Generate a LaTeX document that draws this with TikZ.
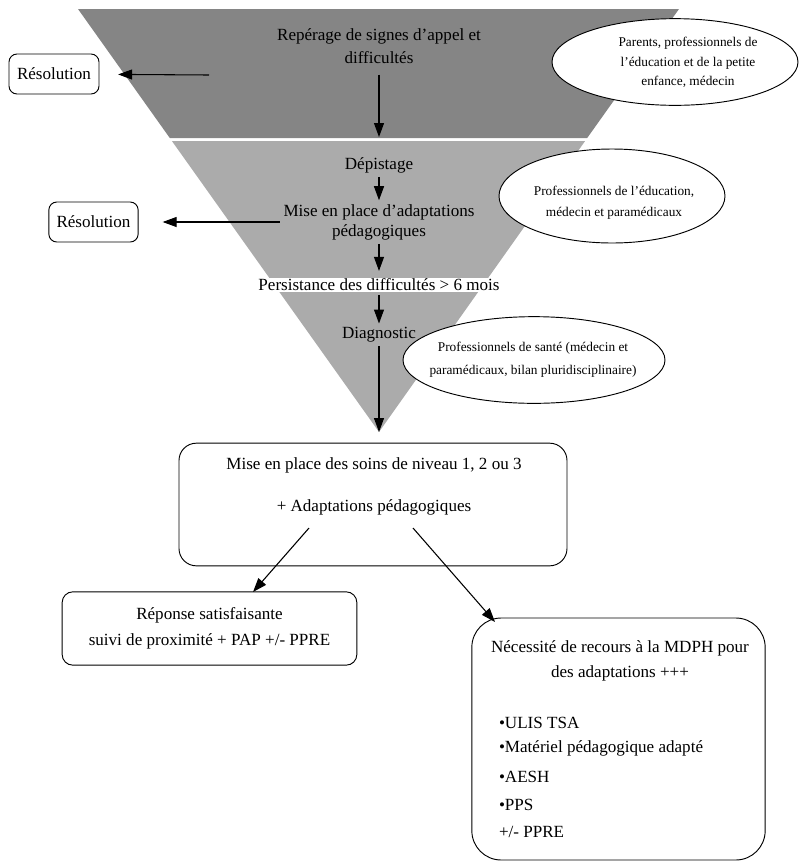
\documentclass[tikz,border=0pt]{standalone}
\usepackage{fontspec}
\setmainfont{Liberation Serif}
\usetikzlibrary{arrows.meta,shapes.geometric}

\begin{document}
\begin{tikzpicture}[x=0.75pt,y=-0.75pt,
  txt/.style={font=\fontsize{12.8}{15}\selectfont,align=center,inner sep=0pt,outer sep=3pt},
  whotxt/.style={font=\fontsize{10}{15}\selectfont,align=center,inner sep=0pt},
  who/.style={draw,ellipse,fill=white,line width=0.7pt,inner sep=0pt},
  box/.style={draw,rounded corners=6pt,line width=0.7pt,inner sep=0pt,
    font=\fontsize{12.8}{15}\selectfont,align=center},
  arr/.style={-{Triangle[length=10.5pt,width=7.5pt]},line width=0.8pt}]
  \useasboundingbox (0,0) rectangle (799,861);
  % funnel
  \fill[black!33] (171.9,141) -- (585.1,141) -- (379,432) -- cycle;
  \fill[black!48] (78,9) -- (679,9) -- (587.2,138) -- (169.8,138) -- cycle;
  \coordinate (band) at (379,137);
  \coordinate (apex) at (379,432);
  \coordinate (cutA) at (209,75);
  \coordinate (splitL) at (309,528);
  \coordinate (splitR) at (413,528);
  \coordinate (tipL) at (253,592);
  \coordinate (tipR) at (495,622);

  % who is involved
  \node[who,minimum width=184.5pt,minimum height=65pt] (parents) at (675,62) {};
  \node[whotxt,font=\fontsize{10}{14.6}\selectfont] (parentsT) at (688,62.5)
    {Parents, professionnels de\\l’éducation et de la petite\\enfance, médecin};
  \node[who,minimum width=169.5pt,minimum height=70.5pt] (profs) at (612,196) {};
  \node[whotxt,font=\fontsize{10}{15.75}\selectfont] (profsT) at (614,202.5)
    {Professionnels de l’éducation,\\médecin et paramédicaux};
  \node[who,minimum width=196.5pt,minimum height=65pt] (sante) at (534,360) {};
  \node[whotxt,font=\fontsize{10}{17.25}\selectfont] (santeT) at (533,359.5)
    {Professionnels de santé (médecin et\\paramédicaux, bilan pluridisciplinaire)};

  % steps
  \node[txt,font=\fontsize{12.8}{17.25}\selectfont] (reperage) at (379,46.5)
    {Repérage de signes d’appel et\\difficultés};
  \node[txt] (depistage) at (379,165) {Dépistage};
  \node[txt] (mise) at (379,222) {Mise en place d’adaptations\\pédagogiques};
  \node[txt,fill=white,inner sep=1pt,outer sep=2pt] (persist) at (379,285)
    {Persistance des difficultés > 6 mois};
  \node[txt] (diag) at (379,335) {Diagnostic};

  \node[box,minimum width=67.5pt,minimum height=30pt] (resolA) at (54,74) {Résolution};
  \node[box,minimum width=67pt,minimum height=30pt] (resolB) at (93.5,222) {Résolution};

  \node[box,rounded corners=13pt,minimum width=291pt,minimum height=92pt] (soins) at (373,504.5) {};
  \node[txt,font=\fontsize{12.8}{31.5}\selectfont] (soinsT) at (374,486)
    {Mise en place des soins de niveau 1, 2 ou 3\\+ Adaptations pédagogiques};

  \node[box,rounded corners=8pt,minimum width=221pt,minimum height=55pt,
    font=\fontsize{12.8}{19.5}\selectfont] (reponse) at (209.5,628.5)
    {Réponse satisfaisante\\suivi de proximité + PAP +/- PPRE};

  \node[box,rounded corners=22pt,minimum width=220pt,minimum height=181.5pt] (mdph) at (618.5,739) {};
  \node[txt,font=\fontsize{12.8}{18.75}\selectfont] (mdphT) at (620,660.5)
    {Nécessité de recours à la MDPH pour\\des adaptations +++};
  \node[txt,anchor=west,align=left,font=\fontsize{12.8}{18}\selectfont] (mdphL) at (495,777.5)
    {•ULIS TSA\\•Matériel pédagogique adapté\\[4.5pt]•AESH\\[3pt]•PPS\\[2.25pt]+/- PPRE};

  % arrows
  \draw[arr,shorten <=5pt] (reperage) -- (band);
  \draw[arr,shorten >=14pt] (cutA) -- (resolA);
  \draw[arr] (depistage) -- (mise);
  \draw[arr,shorten >=18pt] (mise) -- (resolB);
  \draw[arr,shorten >=3pt] (mise) -- (persist);
  \draw[arr] (persist) -- (diag);
  \draw[arr] (diag) -- (apex);
  \draw[arr] (splitL) -- (tipL);
  \draw[arr] (splitR) -- (tipR);
\end{tikzpicture}
\end{document}
